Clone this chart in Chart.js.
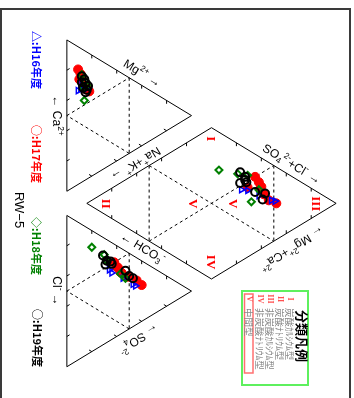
<!DOCTYPE html>
<html>
<head>
<meta charset="utf-8">
<script src="https://cdn.jsdelivr.net/npm/chart.js@4.4.0/dist/chart.umd.min.js"></script>
<style>
  body { margin: 0; background: #fff; }
</style>
</head>
<body>
<canvas id="piper" width="354" height="398"></canvas>
<script>
// series names
const seriesNames = ["H16年度", "H17年度", "H18年度", "H19年度"];

// cation meq% : [Ca, Mg, Na+K]
const h16Cation = [[62, 9, 29], [62, 11, 27], [61, 13, 26], [60, 16, 24], [65, 12, 23]];
const h17Cation = [[76, 9, 15], [72, 11, 17], [69, 12, 19], [69, 10, 21], [61, 16, 23], [57, 18, 25], [63, 13, 24], [60, 15, 25]];
const h18Cation = [[71, 12, 17], [53, 14, 33], [65, 15, 20], [62, 13, 25], [62, 16, 22]];
const h19Cation = [[70, 12, 18], [67, 14, 19], [64, 15, 21], [62, 13, 25], [59, 16, 25], [66, 12, 22], [58, 15, 27], [61, 17, 22]];

// anion meq% : [HCO3, SO4, Cl]
const h16Anion = [[47, 34, 19], [44, 36, 20], [36, 45, 19], [28, 53, 19], [26, 55, 19]];
const h17Anion = [[50, 38, 12], [45, 41, 14], [41, 43, 16], [40, 44, 16], [35, 49, 16], [29, 56, 15], [24, 60, 16], [46, 40, 14]];
const h18Anion = [[54, 32, 14], [35, 47, 18], [59, 30, 11], [69, 20, 11], [40, 43, 17]];
const h19Anion = [[59, 29, 12], [54, 32, 14], [52, 35, 13], [52, 31, 17], [40, 47, 13], [35, 50, 15], [32, 53, 15], [50, 36, 14]];

// zone labels of the diamond and the classification legend
const zoneNames = ["I", "II", "III", "IV", "V"];
const zoneTexts = ["炭酸ｶﾙｼｳﾑ型", "炭酸ﾅﾄﾘｳﾑ型", "非炭酸ｶﾙｼｳﾑ型", "非炭酸ﾅﾄﾘｳﾑ型", "中間型"];

// piper geometry (unrotated: X to the right, Y up; the page is turned 90deg)
const H = Math.sqrt(3) / 2;
const GAP = 0.16;

function catPt(c) {
  let s = c[0] + c[1] + c[2];
  let mg = c[1] / s, nak = c[2] / s;
  return { x: mg * H, y: nak + mg / 2 };
}
function anPt(a) {
  let s = a[0] + a[1] + a[2];
  let so4 = a[1] / s, cl = a[2] / s;
  return { x: so4 * H, y: 1 + GAP + cl + so4 / 2 };
}
function diaPt(c, a) {
  let nak = c[2] / (c[0] + c[1] + c[2]);
  let hco3 = a[0] / (a[0] + a[1] + a[2]);
  let k = 2 + GAP - hco3 - nak;
  return { x: H * k, y: nak + k / 2 };
}
function piperData(cat, an) {
  let out = [];
  for (let i = 0; i < cat.length; i++) {
    out.push(catPt(cat[i]), anPt(an[i]), diaPt(cat[i], an[i]));
  }
  return out;
}

// vertices [X, Y]
const CA = [0, 0], NAK = [1, 0], MG = [0.5, H];
const HC = [1 + GAP, 0], CL = [2 + GAP, 0], SO = [1.5 + GAP, H];
const DB = [1 + GAP / 2, GAP * H], DL = [0.5 + GAP / 2, H + GAP * H];
const DR = [1.5 + GAP / 2, H + GAP * H], DT = [1 + GAP / 2, 2 * H + GAP * H];

function mid(a, b, t) { return [a[0] + (b[0] - a[0]) * t, a[1] + (b[1] - a[1]) * t]; }

const piperFrame = {
  id: 'piperFrame',
  beforeDatasetsDraw(chart) {
    const ctx = chart.ctx;
    const px = (P) => [chart.scales.x.getPixelForValue(P[1]), chart.scales.y.getPixelForValue(P[0])];
    ctx.save();
    // picture border
    ctx.fillStyle = '#3a3a3a';
    ctx.fillRect(0, 8, 351, 2);
    ctx.fillRect(0, 8, 2, 390);
    ctx.fillRect(349, 8, 2, 390);

    function line(a, b) {
      let p = px(a), q = px(b);
      ctx.beginPath(); ctx.moveTo(p[0], p[1]); ctx.lineTo(q[0], q[1]); ctx.stroke();
    }
    function poly(pts) {
      ctx.beginPath();
      pts.forEach((P, i) => { let p = px(P); i ? ctx.lineTo(p[0], p[1]) : ctx.moveTo(p[0], p[1]); });
      ctx.closePath(); ctx.stroke();
    }
    function ticks(a, b, dir) {
      for (let k = 1; k < 5; k++) {
        let p = mid(a, b, k / 5);
        line(p, [p[0] + dir[0] * 0.022, p[1] + dir[1] * 0.022]);
      }
    }
    ctx.strokeStyle = '#000';
    ctx.lineWidth = 1;
    poly([CA, NAK, MG]);
    poly([HC, CL, SO]);
    poly([DB, DR, DT, DL]);

    // ticks
    ticks(CA, NAK, [-0.5, H]); ticks(CA, MG, [1, 0]); ticks(NAK, MG, [-0.5, -H]);
    ticks(HC, CL, [-0.5, H]); ticks(HC, SO, [1, 0]); ticks(CL, SO, [-0.5, -H]);
    ticks(DB, DL, [1, 0]); ticks(DL, DT, [1, 0]); ticks(DB, DR, [-1, 0]); ticks(DR, DT, [-1, 0]);

    // 50% dashed lines
    ctx.setLineDash([3, 3]);
    [[CA, NAK, MG], [HC, CL, SO]].forEach(t => {
      let m1 = mid(t[0], t[1], 0.5), m2 = mid(t[0], t[2], 0.5), m3 = mid(t[1], t[2], 0.5);
      line(m1, m2); line(m2, m3); line(m3, m1);
    });
    let e1 = mid(DB, DL, 0.5), e2 = mid(DB, DR, 0.5), e3 = mid(DL, DT, 0.5), e4 = mid(DR, DT, 0.5);
    line(e1, e4); line(e2, e3); line(e1, e2); line(e3, e4);
    ctx.restore();
  }
};

function drawRich(ctx, str, x, y, angle, size, color, weight) {
  let parts = str.match(/(\^\{[^}]*\}|_\{[^}]*\}|[^^_]+)/g).map(s => {
    if (s[0] === '^') return { t: s.slice(2, -1), f: 0.7, dy: -0.38 };
    if (s[0] === '_') return { t: s.slice(2, -1), f: 0.7, dy: 0.3 };
    return { t: s, f: 1, dy: 0 };
  });
  const fam = '"Liberation Sans", Arial, "DejaVu Sans", sans-serif';
  let w = 0;
  parts.forEach(p => { ctx.font = (weight || '') + ' ' + (size * p.f) + 'px ' + fam; p.w = ctx.measureText(p.t).width; w += p.w; });
  ctx.save();
  ctx.translate(x, y);
  ctx.rotate(angle * Math.PI / 180);
  ctx.fillStyle = color;
  ctx.textBaseline = 'middle';
  ctx.textAlign = 'left';
  let cx = -w / 2;
  parts.forEach(p => {
    ctx.font = (weight || '') + ' ' + (size * p.f) + 'px ' + fam;
    ctx.fillText(p.t, cx, p.dy * size);
    cx += p.w;
  });
  ctx.restore();
}

function drawText(ctx, str, x, y, angle, font, color, align) {
  ctx.save();
  ctx.translate(x, y);
  ctx.rotate(angle * Math.PI / 180);
  ctx.font = font;
  ctx.fillStyle = color;
  ctx.textAlign = align || 'center';
  ctx.textBaseline = 'middle';
  ctx.fillText(str, 0, 0);
  ctx.restore();
}

const piperText = {
  id: 'piperText',
  afterDraw(chart) {
    const ctx = chart.ctx;
    const px = (P) => [chart.scales.x.getPixelForValue(P[1]), chart.scales.y.getPixelForValue(P[0])];

    // axis labels along the edges
    const edgeLabels = [
      ['← Ca^{2+}', CA, NAK, 0.5, -11, false],
      ['Mg^{2+} →', CA, MG, 0.56, 10, false],
      ['Na^{+}+K^{+} →', NAK, MG, 0.5, -12, true],
      ['← HCO_{3}^{-}', HC, SO, 0.56, 11, false],
      ['Cl^{-} →', HC, CL, 0.5, -11, false],
      ['← SO_{4}^{2-}', CL, SO, 0.52, -13, true],
      ['SO_{4}^{2-}+Cl^{-} →', DL, DT, 0.6, 10, false],
      ['← Mg^{2+}+Ca^{2+}', DR, DT, 0.58, -15, true]
    ];
    edgeLabels.forEach(l => {
      let a = px(l[1]), b = px(l[2]);
      let dx = b[0] - a[0], dy = b[1] - a[1], len = Math.hypot(dx, dy);
      let ux = dx / len, uy = dy / len;
      let x = a[0] + dx * l[3] + uy * l[4];
      let y = a[1] + dy * l[3] - ux * l[4];
      let ang = Math.atan2(dy, dx) * 180 / Math.PI + (l[5] ? 180 : 0);
      drawRich(ctx, l[0], x, y, ang, 12, '#000');
    });

    // zone numerals in the diamond
    const zonePos = [[0.654, 1.0], [1.083, 0.268], [1.083, 1.725], [1.468, 1.0], [1.083, 0.872], [1.083, 1.148]];
    const zoneOf = [0, 1, 2, 3, 4, 4];
    zonePos.forEach((z, i) => {
      let p = px(z);
      drawText(ctx, zoneNames[zoneOf[i]], p[0], p[1], 90, 'bold 13px "Liberation Serif", serif', '#ff0000');
    });

    // series legend and title
    const legendMarks = ['△', '○', '◇', '○'];
    const legendColors = ['#0000ff', '#ff0000', '#008000', '#000000'];
    const legendPos = [[36, 60], [36, 154], [36, 246], [37, 338]];
    seriesNames.forEach((s, i) => {
      drawText(ctx, legendMarks[i] + ':' + s, legendPos[i][0], legendPos[i][1], 90,
        'bold 11px "Noto Sans CJK JP", sans-serif', legendColors[i]);
    });
    drawText(ctx, 'RW−5', 19, 210, 90, '13px "Liberation Sans", Arial, sans-serif', '#000');

    // classification legend box
    ctx.save();
    ctx.strokeStyle = '#5ef05e';
    ctx.lineWidth = 2;
    ctx.strokeRect(242, 291, 66, 94);
    ctx.strokeStyle = '#ff7070';
    ctx.lineWidth = 1.5;
    ctx.strokeRect(244.5, 294, 8.5, 79);
    ctx.restore();
    drawText(ctx, '分類凡例', 302, 336, 90, 'bold 13px "Noto Sans CJK JP", sans-serif', '#000');
    const rowX = [290, 280, 270, 260, 249];
    zoneTexts.forEach((t, i) => {
      drawText(ctx, zoneNames[i], rowX[i], 299, 90, 'bold 8px "Liberation Serif", serif', '#ff5050');
      drawText(ctx, t, rowX[i], 308, 90, '9.5px "Noto Sans CJK JP", sans-serif', '#888888', 'left');
    });
  }
};

const chart = new Chart(document.getElementById('piper'), {
  type: 'scatter',
  data: {
    datasets: [
      {
        label: seriesNames[0],
        data: piperData(h16Cation, h16Anion),
        pointStyle: 'triangle', pointRotation: 90, pointRadius: 3.5,
        borderColor: '#0000ff', backgroundColor: 'rgba(0,0,0,0)', borderWidth: 1.5,
        order: 2
      },
      {
        label: seriesNames[1],
        data: piperData(h17Cation, h17Anion),
        pointStyle: 'circle', pointRadius: 4.5,
        borderColor: '#ff0000', backgroundColor: '#ff0000', borderWidth: 1,
        order: 3
      },
      {
        label: seriesNames[2],
        data: piperData(h18Cation, h18Anion),
        pointStyle: 'rectRot', pointRadius: 3.5,
        borderColor: '#008000', backgroundColor: 'rgba(0,0,0,0)', borderWidth: 2,
        order: 1
      },
      {
        label: seriesNames[3],
        data: piperData(h19Cation, h19Anion),
        pointStyle: 'circle', pointRadius: 4,
        borderColor: '#000000', backgroundColor: 'rgba(0,0,0,0)', borderWidth: 2,
        order: 0
      }
    ]
  },
  options: {
    responsive: false,
    animation: false,
    devicePixelRatio: 1,
    layout: { padding: 0 },
    plugins: { legend: { display: false }, tooltip: { enabled: false } },
    scales: {
      x: { type: 'linear', display: false, min: -63 / 149, max: 291 / 149 },
      y: { type: 'linear', display: false, reverse: true, min: -35 / 156, max: 363 / 156 }
    }
  },
  plugins: [piperFrame, piperText]
});
</script>
</body>
</html>
